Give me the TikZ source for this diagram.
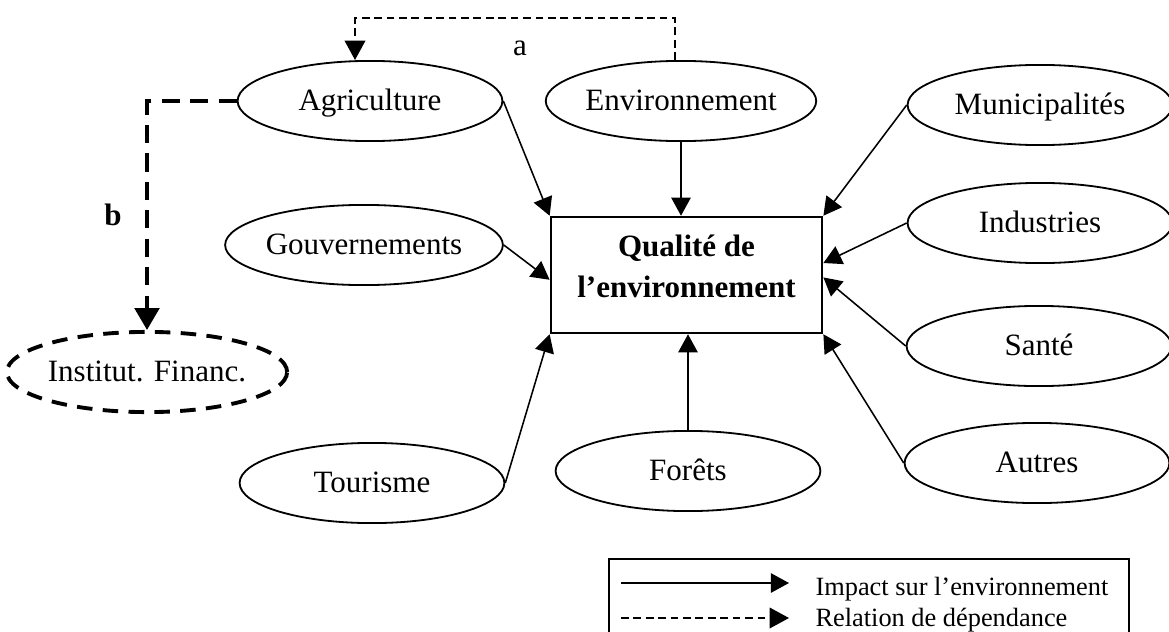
\documentclass[tikz,border=0pt]{standalone}
\usepackage{fontspec}
\setmainfont{Liberation Serif}
\usetikzlibrary{arrows.meta,shapes.geometric,calc}

\tikzset{
  actor/.style={draw, ellipse, line width=0.7pt, inner sep=0pt,
    minimum width=3.6cm, minimum height=1.09cm,
    text height=0.7em, text depth=0pt},
  quality/.style={draw, rectangle, line width=0.9pt, align=center,
    minimum width=3.69cm, minimum height=1.58cm, text depth=7pt,
    font=\fontsize{12}{16}\selectfont\bfseries},
  impact/.style={-{Triangle[length=7pt,width=7.5pt]}, line width=0.6pt},
  depend/.style={-{Triangle[length=7.5pt,width=8pt]}, line width=0.6pt,
    dash pattern=on 3pt off 1.8pt},
  dependstrong/.style={-{Triangle[length=8.5pt,width=9.5pt]},
    line width=1.5pt, dash pattern=on 7pt off 4pt},
  legendtext/.style={anchor=base west, inner sep=0pt,
    font=\fontsize{10.2}{12}\selectfont},
}

\begin{document}
\begin{tikzpicture}[x=0.0136cm, y=-0.0136cm, font=\fontsize{12}{14}\selectfont]
  \useasboundingbox (0,0) rectangle (1169,632);
  % Centre
  \node[quality] (box) at (686.5,275) {Qualité de\\l’environnement};
  % Actors
  \node[actor] (agr) at (370,101) {Agriculture};
  \node[actor] (env) at (681,101) {Environnement};
  \node[actor] (mun) at (1040,105) {Municipalités};
  \node[actor] (ind) at (1040,223) {Industries};
  \node[actor] (san) at (1039,346) {Santé};
  \node[actor] (aut) at (1037,463) {Autres};
  \node[actor] (gouv) at (364,245) {Gouvernements};
  \node[actor] (tour) at (372,483) {Tourisme};
  \node[actor] (foret) at (688,471) {Forêts};
  \node[actor, line width=1.5pt, dash pattern=on 6pt off 4pt]
    (inst) at (147,372) {Institut. Financ.};
  % Impacts
  \draw[impact] (agr.east) -- (box.north west);
  \draw[impact] (env.south) -- (env.south |- box.north);
  \draw[impact] (mun.west) -- (box.north east);
  \draw[impact] (ind.west) -- (box.5);
  \draw[impact] (san.west) -- (box.-1);
  \draw[impact] (aut.west) -- (box.south east);
  \draw[impact] (gouv.east) -- (box.182);
  \draw[impact] (tour.east) -- (box.south west);
  \draw[impact] (foret.north) -- (foret.north |- box.south);
  % Dependencies
  \draw[depend] ($(env.north)+(-6,0)$) -- ++(0,-42)
    -| ($(agr.north)+(-15,0)$);
  \node (lbla) at (520,48) {a};
  \draw[dependstrong] (agr.west) -| (inst.north);
  \node[font=\fontsize{12}{14}\selectfont\bfseries] (lblb) at (113,215) {b};
  % Legend
  \draw[line width=0.9pt] (609,559) rectangle (1129,660);
  \coordinate (imp0) at (621,583);
  \coordinate (imp1) at (789,583);
  \coordinate (dep0) at (621,618);
  \coordinate (dep1) at (789,618);
  \draw[impact] (imp0) -- (imp1);
  \draw[depend] (dep0) -- (dep1);
  \node[legendtext] (limp) at (815,595) {Impact sur l’environnement};
  \node[legendtext] (ldep) at (815,626) {Relation de dépendance};
\end{tikzpicture}
\end{document}
